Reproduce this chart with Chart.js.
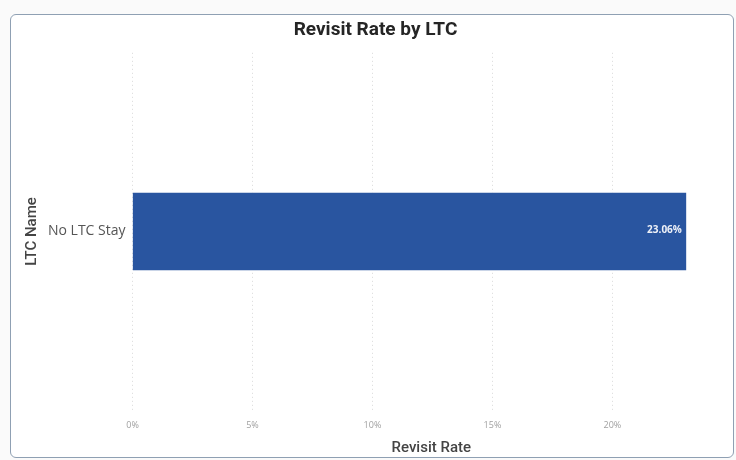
<!DOCTYPE html>
<html>
<head>
<meta charset="utf-8">
<script src="https://cdn.jsdelivr.net/npm/chart.js@4"></script>
<style>
  body { margin: 0; background: #fafafa; }
  #card {
    position: absolute; left: 10px; top: 14px;
    width: 722px; height: 442px;
    background: #fff;
    border: 1.5px solid #8fa0b3;
    border-radius: 6px;
  }
  canvas { display: block; }
</style>
</head>
<body>
<div id="card"><canvas id="revisit" width="722" height="442"></canvas></div>
<script>
// revisit rate per LTC (percent)
const ltcNames = ["No LTC Stay"];
const revisitRates = [23.06];
const rateTicks = [0, 5, 10, 15, 20];
const rateAxisMax = 24.9;

// writes the value at the inside end of each bar
const barValueLabels = {
  id: 'barValueLabels',
  afterDatasetsDraw(chart) {
    const ctx = chart.ctx;
    const meta = chart.getDatasetMeta(0);
    ctx.save();
    ctx.font = 'bold 10px "Open Sans", sans-serif';
    ctx.fillStyle = '#eef1f8';
    ctx.textAlign = 'right';
    ctx.textBaseline = 'middle';
    meta.data.forEach(function(bar, i) {
      ctx.fillText(revisitRates[i].toFixed(2) + '%', bar.x - 4, bar.y - 1);
    });
    ctx.restore();
  }
};

new Chart(document.getElementById('revisit'), {
  type: 'bar',
  data: {
    labels: ltcNames,
    datasets: [{
      label: 'Revisit Rate',
      data: revisitRates,
      backgroundColor: '#2955a0',
      barThickness: 77
    }]
  },
  options: {
    indexAxis: 'y',
    responsive: false,
    animation: false,
    layout: { padding: { left: 10, right: 3, top: 0, bottom: 0 } },
    scales: {
      x: {
        min: 0,
        max: rateAxisMax,
        afterBuildTicks(axis) {
          axis.ticks = rateTicks.map(v => ({ value: v }));
        },
        grid: {
          color: '#d9d9d9',
          drawTicks: false
        },
        border: { display: false, dash: [1, 3] },
        ticks: {
          color: '#a0a0a0',
          font: { family: '"Open Sans", sans-serif', size: 9 },
          padding: 10,
          callback: v => v + '%'
        },
        title: {
          display: true,
          text: 'Revisit Rate',
          color: '#444',
          font: { family: 'Roboto, sans-serif', size: 15, weight: '500', lineHeight: 1 },
          padding: { top: 0, bottom: 1 }
        }
      },
      y: {
        grid: { display: false, drawTicks: false },
        border: { display: false },
        ticks: {
          color: '#555',
          font: { family: '"Open Sans", sans-serif', size: 14 },
          padding: 7
        },
        title: {
          display: true,
          text: 'LTC Name',
          color: '#444',
          font: { family: 'Roboto, sans-serif', size: 15, weight: '500' },
          padding: { top: 2, bottom: 0 }
        }
      }
    },
    plugins: {
      legend: { display: false },
      tooltip: { enabled: false },
      title: {
        display: true,
        text: 'Revisit Rate by LTC',
        color: '#252525',
        font: { family: 'Roboto, sans-serif', size: 19, weight: 'bold' },
        padding: { top: 4, bottom: 11 }
      }
    }
  },
  plugins: [barValueLabels]
});
</script>
</body>
</html>
